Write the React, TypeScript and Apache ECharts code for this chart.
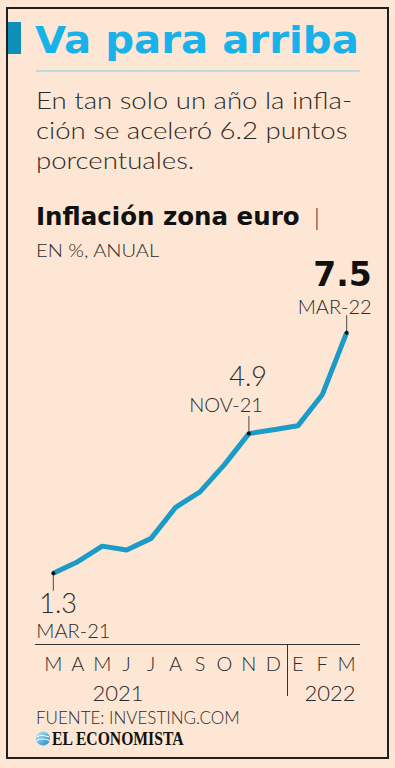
import React, { useEffect, useRef } from "react";
import * as echarts from "echarts";

const periods = ["MAR-21", "ABR-21", "MAY-21", "JUN-21", "JUL-21", "AGO-21", "SEP-21", "OCT-21", "NOV-21", "DIC-21", "ENE-22", "FEB-22", "MAR-22"];
const monthLetters = ["M", "A", "M", "J", "J", "A", "S", "O", "N", "D", "E", "F", "M"];
const inflation = [1.3, 1.6, 2.0, 1.9, 2.2, 3.0, 3.4, 4.1, 4.9, 5.0, 5.1, 5.9, 7.5];
const annotatedIdx = [0, 8, 12];
const years = ["2021", "2022"];
const subtitleLines = ["En tan solo un año la infla-", "ción se aceleró 6.2 puntos", "porcentuales."];

const BG = "#fde6d3";
const INK = "#2b2b2b";
const FONT = "'Lato Light', Lato, 'Open Sans', sans-serif";
const BOLD = "'DejaVu Sans', Lato, sans-serif";

export default function App() {
  const ref = useRef<HTMLDivElement>(null);
  useEffect(() => {
    if (!ref.current) return;
    const chart = echarts.init(ref.current, undefined, { renderer: "svg" });

    const staticGraphics: any[] = [
      { type: "rect", shape: { x: 7, y: 8, width: 381, height: 750 }, style: { fill: "none", stroke: "#1f1f1f", lineWidth: 2 }, z: 1 },
      { type: "rect", shape: { x: 7, y: 22, width: 14, height: 32 }, style: { fill: "#0d8fb9" } },
      { type: "text", x: 35, y: 40, scaleX: 1.06, style: { text: "Va para arriba", font: `bold 38px ${BOLD}`, fill: "#18b2ea", verticalAlign: "middle" } },
      { type: "line", shape: { x1: 36, y1: 71, x2: 360, y2: 71 }, style: { stroke: "#7ccbe8", lineWidth: 1 } },
      ...subtitleLines.map((t, i) => ({
        type: "text", x: 36, y: 100 + i * 30, scaleX: 1.2,
        style: { text: t, font: `300 23px ${FONT}`, fill: INK, verticalAlign: "middle" },
      })),
      { type: "text", x: 36, y: 216, style: { text: "Inflación zona euro", font: `bold 24.5px ${BOLD}`, fill: "#111", verticalAlign: "middle" } },
      { type: "text", x: 314, y: 216, style: { text: "|", font: `300 24px ${FONT}`, fill: INK, verticalAlign: "middle" } },
      { type: "text", x: 36, y: 250, scaleX: 1.15, style: { text: "EN %, ANUAL", font: `300 17.5px ${FONT}`, fill: INK, verticalAlign: "middle" } },
      { type: "line", shape: { x1: 35, y1: 644.5, x2: 360, y2: 644.5 }, style: { stroke: "#333", lineWidth: 1 } },
      { type: "line", shape: { x1: 287.5, y1: 644, x2: 287.5, y2: 696 }, style: { stroke: "#333", lineWidth: 1 } },
      { type: "text", x: 118, y: 692, style: { text: years[0], font: `300 22px ${FONT}`, fill: INK, align: "center", verticalAlign: "middle" } },
      { type: "text", x: 330, y: 692, style: { text: years[1], font: `300 22px ${FONT}`, fill: INK, align: "center", verticalAlign: "middle" } },
      { type: "text", x: 36, y: 717, style: { text: "FUENTE: INVESTING.COM", font: `300 17px ${FONT}`, fill: INK, verticalAlign: "middle" } },
      {
        type: "circle", shape: { cx: 43, cy: 738.5, r: 7 },
        style: { fill: new echarts.graphic.LinearGradient(0, 0, 1, 1, [{ offset: 0, color: "#bfe8f8" }, { offset: 1, color: "#1688c9" }]) },
      },
      { type: "bezierCurve", shape: { x1: 37, y1: 737, cpx1: 41, cpy1: 734, x2: 49, y2: 737 }, style: { stroke: "#fff", lineWidth: 1.2, fill: "none" } },
      { type: "bezierCurve", shape: { x1: 37, y1: 740.5, cpx1: 42, cpy1: 737.5, x2: 49.5, y2: 740.5 }, style: { stroke: "#fff", lineWidth: 1.2, fill: "none" } },
      { type: "text", x: 52, y: 739, scaleX: 0.87, style: { text: "EL ECONOMISTA", font: `bold 18px 'Liberation Serif', serif`, fill: "#111", verticalAlign: "middle" } },
    ];

    chart.setOption({
      animation: false,
      backgroundColor: BG,
      grid: { left: 41.1, width: 317.8, top: 274.5, height: 349.25 },
      xAxis: {
        type: "category",
        data: periods,
        boundaryGap: true,
        axisLine: { show: false },
        axisTick: { show: false },
        axisLabel: {
          interval: 0,
          margin: 29,
          fontSize: 20,
          fontWeight: 300,
          fontFamily: FONT,
          color: INK,
          formatter: (_v: string, i: number) => monthLetters[i],
        },
      },
      yAxis: { type: "value", min: 0, max: 9, show: false, splitLine: { show: false } },
      series: [
        {
          type: "line",
          data: inflation.map((v, i) =>
            annotatedIdx.includes(i) ? { value: v, symbol: "circle", symbolSize: 4, itemStyle: { color: "#111" } } : { value: v, symbol: "none" }
          ),
          showSymbol: true,
          lineStyle: { color: "#1b9bc7", width: 5 },
          z: 3,
        },
        {
          type: "scatter",
          data: annotatedIdx.map((i) => ({
            value: [i, inflation[i]],
            symbolOffset: [0, i === 0 ? 9 : -9],
          })),
          symbol: "rect",
          symbolSize: [1, 17],
          itemStyle: { color: "#222" },
          z: 2,
        },
      ],
      graphic: staticGraphics,
    });

    const px = annotatedIdx.map((i) => chart.convertToPixel({ gridIndex: 0 }, [i, inflation[i]]) as number[]);
    const light = (s: number) => `300 ${s}px ${FONT}`;
    const ann: any[] = [
      { type: "text", x: px[0][0] - 14, y: px[0][1] + 29, style: { text: inflation[annotatedIdx[0]].toFixed(1), font: light(27), fill: INK, verticalAlign: "middle" } },
      { type: "text", x: px[0][0] - 17, y: px[0][1] + 57, style: { text: periods[annotatedIdx[0]], font: light(20), fill: INK, verticalAlign: "middle" } },
      { type: "text", x: px[1][0] + 18, y: px[1][1] - 58, style: { text: inflation[annotatedIdx[1]].toFixed(1), font: light(27), fill: INK, align: "right", verticalAlign: "middle" } },
      { type: "text", x: px[1][0] + 14, y: px[1][1] - 30, style: { text: periods[annotatedIdx[1]], font: light(20), fill: INK, align: "right", verticalAlign: "middle" } },
      { type: "text", x: px[2][0] + 25, y: px[2][1] - 58, style: { text: inflation[annotatedIdx[2]].toFixed(1), font: `bold 33px ${BOLD}`, fill: "#111", align: "right", verticalAlign: "middle" } },
      { type: "text", x: px[2][0] + 25, y: px[2][1] - 27, style: { text: periods[annotatedIdx[2]], font: light(20), fill: INK, align: "right", verticalAlign: "middle" } },
    ];
    chart.setOption({ graphic: [...staticGraphics, ...ann] });

    return () => chart.dispose();
  }, []);
  return <div ref={ref} style={{ position: "fixed", left: 0, top: 0, width: 395, height: 768 }} />;
}
